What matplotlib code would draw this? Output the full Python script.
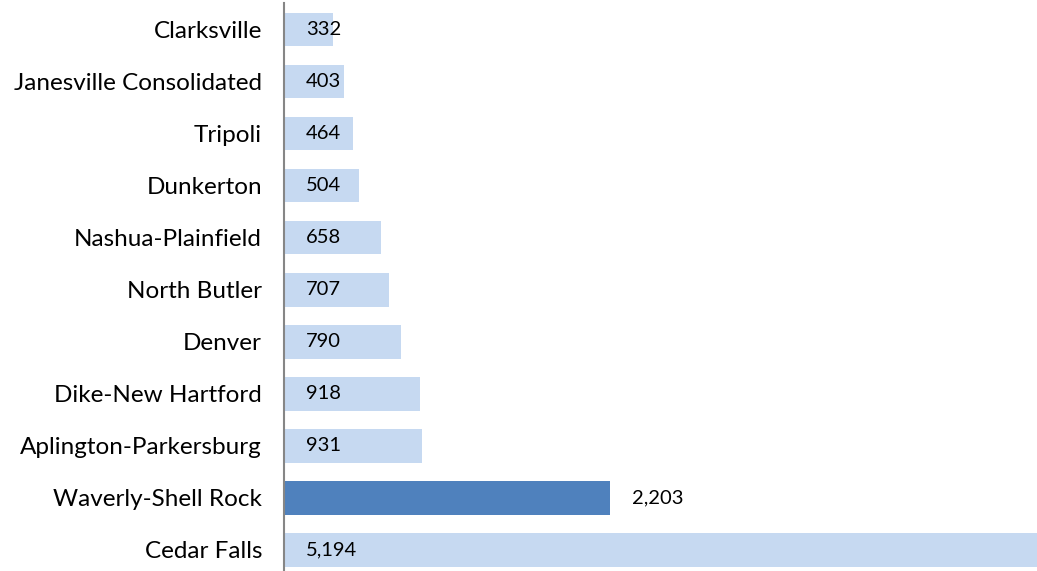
import matplotlib
matplotlib.use("Agg")
import matplotlib.pyplot as plt

categories = ["Clarksville", "Janesville Consolidated", "Tripoli", "Dunkerton",
              "Nashua-Plainfield", "North Butler", "Denver", "Dike-New Hartford",
              "Aplington-Parkersburg", "Waverly-Shell Rock", "Cedar Falls"]
values = [332, 403, 464, 504, 658, 707, 790, 918, 931, 2203, 5194]
highlight = "Waverly-Shell Rock"

plt.rcParams['font.family'] = ['Lato', 'DejaVu Sans']

W, H = 1037, 571
fig = plt.figure(figsize=(W/100, H/100), dpi=100)
ax_left, ax_right = 284/W, 1037/W
top_px, bot_px = 3.5, 576
ax = fig.add_axes([ax_left, 1 - bot_px/H, ax_right - ax_left, (bot_px - top_px)/H])

light, dark = "#C6D9F1", "#4F81BD"
colors = [dark if c == highlight else light for c in categories]
y = list(range(len(categories)))
ax.barh(y, values, height=0.645, color=colors, zorder=2)
ax.set_ylim(len(categories) - 0.5, -0.5)
ax.set_xlim(0, 5088)

ax.set_yticks(y)
ax.set_yticklabels(categories, fontsize=17.5, color="#000000")
ax.tick_params(axis='y', length=0, pad=15.8)
ax.set_xticks([])
for s in ["top", "right", "bottom"]:
    ax.spines[s].set_visible(False)
ax.spines["left"].set_color("#868686")
ax.spines["left"].set_linewidth(1.5)
ax.spines["left"].set_zorder(3)

for yi, v, c in zip(y, values, categories):
    txt = f"{v:,}"
    if c == highlight:
        ax.annotate(txt, (v, yi), xytext=(22, 0), textcoords="offset pixels",
                    ha="left", va="center", fontsize=14.5, color="#000000")
    else:
        ax.annotate(txt, (0, yi), xytext=(22, 0), textcoords="offset pixels",
                    ha="left", va="center", fontsize=14.5, color="#000000", zorder=4)

fig.savefig("out.png", dpi=100)
